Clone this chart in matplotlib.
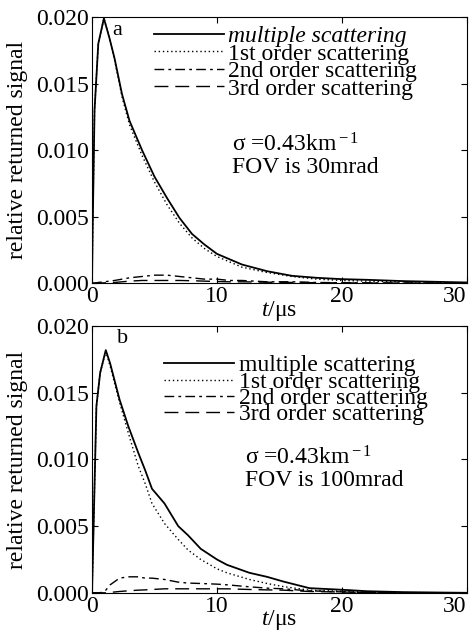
import matplotlib
matplotlib.use("Agg")
import matplotlib.pyplot as plt

plt.rcParams['font.family'] = ['Liberation Serif', 'DejaVu Serif']
plt.rcParams['mathtext.fontset'] = 'custom'
plt.rcParams['mathtext.rm'] = 'Liberation Serif'
plt.rcParams['mathtext.it'] = 'Liberation Serif:italic'

# panel a: FOV 30 mrad
t_a = [0, 0.05, 0.2, 0.5, 0.95, 1.4, 1.8, 2.4, 3, 4, 5, 6, 7, 8, 9, 10, 11, 12, 14, 16, 18, 20, 22, 25, 30]
multi_a = [0, 0.004, 0.013, 0.018, 0.0199, 0.0184, 0.0169, 0.0142, 0.0122, 0.0100, 0.0080, 0.0064, 0.0049,
           0.0037, 0.0029, 0.0022, 0.0018, 0.0014, 0.0009, 0.00055, 0.0004, 0.0003, 0.00025, 0.00015, 0.00005]
first_a = [0, 0.004, 0.013, 0.018, 0.0199, 0.0184, 0.0168, 0.0140, 0.0119, 0.0096, 0.0076, 0.0059, 0.0045,
           0.0034, 0.0026, 0.0020, 0.0016, 0.0012, 0.0008, 0.0005, 0.0003, 0.0002, 0.00015, 0.0001, 0.0]
second_a = [0, 0, 0, 0.00005, 0.0001, 0.00015, 0.0002, 0.0003, 0.0004, 0.0005, 0.0006, 0.0006, 0.0005,
            0.0004, 0.0003, 0.0003, 0.0002, 0.0002, 0.0001, 0.0001, 0.00005, 0.00003, 0.00002, 0.00001, 0]
third_a = [0, 0, 0, 0, 0.00002, 0.00004, 0.00005, 0.0001, 0.00015, 0.0002, 0.0002, 0.0002, 0.0002,
           0.00018, 0.00015, 0.00012, 0.0001, 0.0001, 0.00007, 0.00005, 0.00003, 0.00002, 0.00001, 0, 0]

# panel b: FOV 100 mrad
t_b = [0, 0.15, 0.35, 0.65, 1.1, 1.45, 2.2, 2.9, 3.7, 4.25, 4.8, 5.8, 6.9, 7.7, 8.7, 10, 10.8, 12.6,
       14, 15.3, 17.4, 20.6, 22, 25, 30]
multi_b = [0, 0.006, 0.014, 0.0165, 0.0182, 0.0172, 0.0145, 0.0125, 0.0105, 0.0092, 0.0078, 0.0067,
           0.0050, 0.0043, 0.0033, 0.0025, 0.0021, 0.0015, 0.0012, 0.00085, 0.00035, 0.0002, 0.00012,
           0.00005, 0]
first_b = [0, 0.006, 0.014, 0.0165, 0.0181, 0.0170, 0.0143, 0.0120, 0.0095, 0.0082, 0.0067, 0.0052,
           0.0040, 0.0032, 0.0025, 0.0018, 0.0015, 0.0010, 0.0007, 0.00047, 0.0002, 0.0001, 0.00005,
           0.00002, 0]
second_b = [0, 0, 0, 0, 0.0002, 0.0006, 0.0011, 0.0012, 0.0012, 0.0011, 0.0011, 0.0010, 0.0008,
            0.00073, 0.0007, 0.00065, 0.0006, 0.00045, 0.00035, 0.0003, 0.00015, 0.00005, 0.00002, 0, 0]
third_b = [0, 0, 0, 0, 0, 0.00003, 0.0001, 0.00015, 0.0002, 0.00022, 0.00025, 0.0003, 0.0003,
           0.0003, 0.0003, 0.0003, 0.0003, 0.00025, 0.00022, 0.0002, 0.0001, 0.00005, 0.00002, 0, 0]

labels = ['multiple scattering', '1st order scattering', '2nd order scattering', '3rd order scattering']
yticks = [0.0, 0.005, 0.010, 0.015, 0.020]
xticks = [0, 10, 20, 30]

FS = 17
fig = plt.figure(figsize=(4.72, 6.32), dpi=100)
ax_a = fig.add_axes([0.195, 0.552, 0.794, 0.421])
ax_b = fig.add_axes([0.195, 0.062, 0.794, 0.422])

panels = [
    (ax_a, t_a, multi_a, first_a, second_a, third_a, 'a', (0.053, 0.951),
     (0.373, 0.519, 0.436), 'FOV is 30mrad', (0.121, 1.03), -0.17),
    (ax_b, t_b, multi_b, first_b, second_b, third_b, 'b', (0.066, 0.955),
     (0.408, 0.505, 0.423), 'FOV is 100mrad', (0.149, 0.954), -0.22),
]

for ax, t, m, s1, s2, s3, tag, tagpos, txtpos, fov, legpos, lsp in panels:
    ax.plot(t, m, color='black', lw=1.3, ls='-', label=labels[0])
    ax.plot(t, s1, color='black', lw=1.0, ls=(0, (1, 2)), label=labels[1])
    ax.plot(t, s2, color='black', lw=1.0, ls=(0, (7, 3, 2, 3)), label=labels[2])
    ax.plot(t, s3, color='black', lw=1.0, ls=(0, (10, 5)), label=labels[3])
    ax.set_xlim(0, 30)
    ax.set_ylim(0, 0.020)
    ax.set_xticks(xticks)
    ax.set_yticks(yticks)
    ax.set_yticklabels(['%.3f' % v for v in yticks])
    ax.tick_params(direction='in', top=True, right=True, length=4, labelsize=FS, pad=2)
    ax.get_xticklabels()[-1].set_horizontalalignment('right')
    ax.set_xlabel('$t$/μs', fontsize=FS, labelpad=-6)
    ax.set_ylabel('relative returned signal', fontsize=FS, labelpad=6)
    ax.text(tagpos[0], tagpos[1], tag, transform=ax.transAxes, fontsize=FS - 1,
            ha='left', va='center')
    ax.text(txtpos[0], txtpos[1], 'σ =0.43km$^{\\rm -1}$', transform=ax.transAxes,
            fontsize=FS, ha='left', va='center')
    ax.text(txtpos[0], txtpos[2], fov, transform=ax.transAxes,
            fontsize=FS, ha='left', va='center')
    leg = ax.legend(loc='upper left', bbox_to_anchor=legpos, frameon=False, fontsize=FS,
                    handlelength=2.95, handletextpad=0.2, labelspacing=lsp, borderpad=0.2)
    if tag == 'a':
        leg.get_texts()[0].set_style('italic')

fig.savefig('out.png', dpi=100)
